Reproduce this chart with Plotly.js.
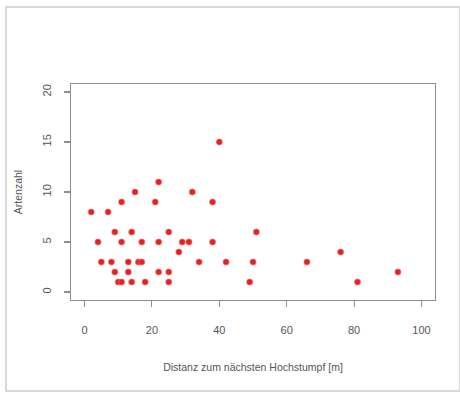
<!DOCTYPE html>
<html>
<head>
<meta charset="utf-8">
<script src="https://cdn.plot.ly/plotly-3.0.1.min.js"></script>
<style>
  html, body { margin: 0; padding: 0; background: #fff; }
  #wrap { position: relative; width: 460px; height: 394px; }
  #chart { position: absolute; left: 0; top: 0; width: 460px; height: 394px; }
  #frame { position: absolute; left: 5px; top: 6px; width: 456px; height: 386px;
           border: 2px solid #d9d9d9; pointer-events: none; box-sizing: border-box; }
</style>
</head>
<body>
<div id="wrap">
  <div id="chart"></div>
  <div id="frame"></div>
</div>
<script>
// Distanz zum nächsten Hochstumpf [m]
const distanz = [2, 7, 4, 5, 8, 9, 11, 11, 9, 10, 11, 13, 13, 14, 14, 15, 16, 17, 17, 18,
                 21, 22, 22, 22, 25, 25, 25, 28, 29, 31, 32, 34, 38, 38, 40, 42, 49, 50, 51,
                 66, 76, 81, 93];
// Artenzahl
const artenzahl = [8, 8, 5, 3, 3, 6, 9, 5, 2, 1, 1, 3, 2, 6, 1, 10, 3, 3, 5, 1,
                   9, 11, 5, 2, 6, 2, 1, 4, 5, 5, 10, 3, 9, 5, 15, 3, 1, 3, 6,
                   3, 4, 1, 2];
const xTicks = [0, 20, 40, 60, 80, 100];
const yTicks = [0, 5, 10, 15, 20];

const trace = {
  x: distanz,
  y: artenzahl,
  type: 'scatter',
  mode: 'markers',
  marker: { color: 'rgb(230,32,32)', size: 6, line: { color: 'rgba(240,110,110,0.55)', width: 1.2 } },
  hoverinfo: 'skip'
};

const axisCommon = {
  showline: true, mirror: true, linecolor: '#8f8f8f', linewidth: 1.3,
  ticks: 'outside', ticklen: 6, tickcolor: '#8f8f8f', tickwidth: 1.2,
  showgrid: false, zeroline: false,
  tickfont: { family: 'Liberation Sans, Arial, sans-serif', size: 11, color: '#555' }
};

const layout = {
  width: 460, height: 394,
  margin: { l: 71, r: 25, t: 84, b: 94 },
  paper_bgcolor: '#fff', plot_bgcolor: '#fff',
  showlegend: false,
  xaxis: Object.assign({}, axisCommon, {
    range: [-4, 104], tickmode: 'array', tickvals: xTicks, ticktext: xTicks.map(String),
    ticklabelstandoff: 13,
    title: { text: 'Distanz zum nächsten Hochstumpf [m]', standoff: 29,
             font: { family: 'Liberation Sans, Arial, sans-serif', size: 10.5, color: '#555' } }
  }),
  yaxis: Object.assign({}, axisCommon, {
    range: [-0.8, 20.8], tickmode: 'array', tickvals: yTicks, ticktext: yTicks.map(String),
    tickangle: -90, ticklabelstandoff: 8,
    title: { text: 'Artenzahl', standoff: 16,
             font: { family: 'Liberation Sans, Arial, sans-serif', size: 10.5, color: '#555' } }
  })
};

Plotly.newPlot('chart', [trace], layout, { staticPlot: true, displayModeBar: false });
</script>
</body>
</html>
